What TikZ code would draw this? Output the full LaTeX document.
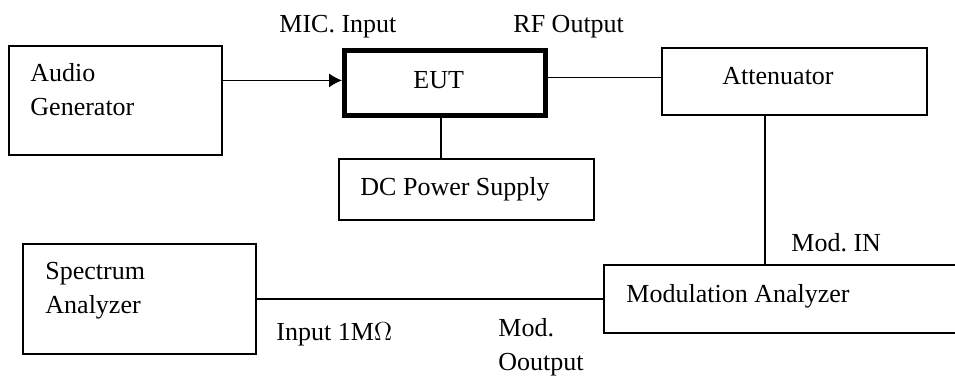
\documentclass[tikz,border=0pt]{standalone}
\usepackage{fontspec}
\setmainfont{Liberation Serif}
\usetikzlibrary{arrows.meta}
\newcommand{\pxu}{0.4615pt}

\begin{document}
\begin{tikzpicture}[x=\pxu, y=-\pxu, font=\fontsize{12}{15.5}\selectfont,
	box/.style={draw, line width=0.6pt, inner sep=0pt},
	txt/.style={anchor=base west, align=left, inner sep=0pt},
	wire/.style={line width=0.6pt}]
	\clip (0,0) rectangle (955,377);
	\useasboundingbox (0,0) rectangle (955,377);
	% boxes
	\node[box, minimum width=213*\pxu, minimum height=109*\pxu] (audio) at (115.5,100.5) {};
	\node[box, line width=2.3pt, minimum width=201*\pxu, minimum height=65*\pxu] (eut) at (445,83) {};
	\node[box, minimum width=265*\pxu, minimum height=67*\pxu] (att) at (794.5,81.5) {};
	\node[box, minimum width=255*\pxu, minimum height=61*\pxu] (dc) at (466.5,189.5) {};
	\node[box, minimum width=233*\pxu, minimum height=110*\pxu] (spec) at (139.5,299) {};
	\node[box, minimum width=356*\pxu, minimum height=68*\pxu] (mod) at (782,299) {};
	% texts in the boxes (base = last line)
	\node[txt] (audiotxt) at (30,115) {Audio\\Generator};
	\node[txt] (euttxt) at (413,88) {EUT};
	\node[txt] (atttxt) at (722,84) {Attenuator};
	\node[txt] (dctxt) at (360,195) {DC Power Supply};
	\node[txt] (spectxt) at (45,313) {Spectrum\\Analyzer};
	\node[txt] (modtxt) at (626,302) {Modulation Analyzer};
	% port labels
	\node[txt] (micin) at (279,32) {MIC. Input};
	\node[txt] (rfout) at (513,32) {RF Output};
	\node[txt] (modin) at (791,251) {Mod.\ IN};
	\node[txt] (specin) at (276,340) {Input 1M$\Omega$};
	\node[txt] (modout) at (498,370) {Mod.\\Ooutput};
	% connections
	\draw[wire, -{Latex[length=6pt, width=6.5pt]}] ([yshift=1.2pt]eut.west -| audio.east) -- ([yshift=1.2pt]eut.west);
	\draw[wire] ([yshift=2.5pt]eut.east) -- ([yshift=2.5pt]eut.east -| att.west);
	\draw[wire] ([xshift=-1.8pt]eut.south) -- ([xshift=-1.8pt]eut.south |- dc.north);
	\draw[wire] ([xshift=-13.6pt]att.south) -- ([xshift=-13.6pt]att.south |- mod.north);
	\draw[wire] (spec.east) -- (mod.west);
\end{tikzpicture}
\end{document}
